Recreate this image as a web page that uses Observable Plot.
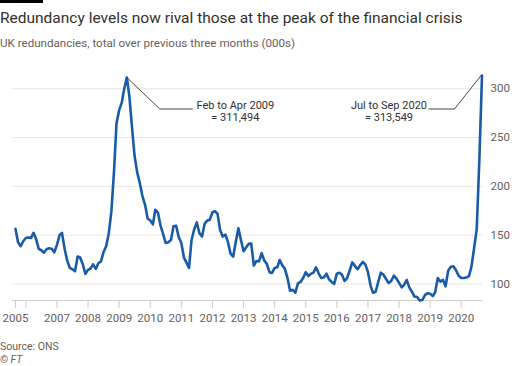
<!DOCTYPE html>
<html><head><meta charset="utf-8">
<script src="https://cdn.jsdelivr.net/npm/d3@7"></script>
<script src="https://cdn.jsdelivr.net/npm/@observablehq/plot@0.6"></script>
<style>
body{margin:0;background:#fff;font-family:Roboto,"Noto Sans",sans-serif;width:512px;height:366px;position:relative;overflow:hidden}
#bar{position:absolute;left:0;top:0;width:43px;height:3px;background:#000}
#title{position:absolute;left:0;top:8px;font-size:15.5px;line-height:20px;color:#33302e;white-space:nowrap}
#sub{position:absolute;left:0;top:35px;font-size:11.6px;line-height:16px;color:#66605c;white-space:nowrap}
#chart{position:absolute;left:0;top:58px}
#src{position:absolute;left:0;top:340px;font-size:10.5px;line-height:13px;color:#66605c}
#ft{position:absolute;left:0;top:353px;font-size:10.5px;line-height:13px;color:#66605c;font-style:italic}
</style></head>
<body>
<div id="bar"></div>
<div id="title">Redundancy levels now rival those at the peak of the financial crisis</div>
<div id="sub">UK redundancies, total over previous three months (000s)</div>
<div id="chart"></div>
<div id="src">Source: ONS</div>
<div id="ft">© FT</div>
<script>
// Monthly series, three months ending Sep 2005 ... Sep 2020 (thousands)
const firstYear = 2005, firstMonth = 8; // Sep 2005 (0-based month)
const redundancies = [
156.4,142.7,138.6,143.7,147,147.5,147,152.3,146,135.9,134.5,132,
135.5,136.5,136,132.4,140,150,152.3,136,124,116.4,115,112.9,
128,127,120,110.3,114.4,116,120,115.4,121.2,123,132.5,138.5,
152,174,215,265,278,286,300,311.494,292,260,231,214,
203,190,181,167,165,161,176,173,160,151,142,142.7,
145,159,159.5,148,142,127,122,116.4,145,156,163,152,
148.5,161.5,165,165.6,173.4,174.5,171.8,155,148.5,150.6,143,131,
128,143,157,145,133.5,137.5,141,141.3,118.8,123.5,123,131.5,
124,120.5,112,111.3,116.4,117,124.5,119,115.5,106,93,94,
91,100.6,102,106,112,108,110.3,111.5,117,110.9,106.2,106.5,
110.5,104.8,102,100,110.5,111.5,109.5,103,106,114,122,118.5,
115,119,122.5,120,112,98,91,92,102,111.5,109.5,105,
101,103,108.5,105.5,101,96.5,99,104,96.5,92,87,86.5,
83,83.5,88.5,90.5,90,87.5,91.5,106,102.4,104.1,97.5,113.5,
117.5,118,114,108.5,106,106,106.5,108,118,137,156,227,
313.549
];
const yTicks = [100, 150, 200, 250, 300];
const xTickYears = [2005,2006,2007,2008,2009,2010,2011,2012,2013,2014,2015,2016,2017,2018,2019,2020];
const xTickLabels = ["2005","","2007","2008","2009","2010","2011","2012","2013","2014","2015","2016","2017","2018","2019","2020"];
const annotationLines = [
  ["Feb to Apr 2009", "= 311,494"],
  ["Jul to Sep 2020", "= 313,549"]
];

const data = redundancies.map((v, i) => ({date: new Date(Date.UTC(firstYear, firstMonth + i, 1)), value: v}));
const startDate = data[0].date, endDate = data[data.length - 1].date;
const xDomain = [new Date(+startDate - 35 * 864e5), new Date(+endDate + 6 * 864e5)];
const xTicks = xTickYears.map((y, i) => i === 0 ? startDate : new Date(Date.UTC(y, 0, 1)));
const labelOf = new Map(xTicks.map((d, i) => [+d, xTickLabels[i]]));
const yDomain = d3.extent(redundancies);

// peaks used by the annotations
const crisisIdx = d3.maxIndex(redundancies.slice(0, 100));
const latestIdx = redundancies.length - 1;
const annots = [
  {d: data[crisisIdx], lines: annotationLines[0], tdx: 108.5, tdy: 28, cx: 33.5, cy: 32, ex: 66.5},
  {d: data[latestIdx], lines: annotationLines[1], tdx: -93, tdy: 30, cx: -27, cy: 34, ex: -53}
];

const font = 'Roboto,"Noto Sans",sans-serif';
const chart = Plot.plot({
  width: 512, height: 272,
  marginTop: 17, marginBottom: 30, marginLeft: 12, marginRight: 30,
  style: {fontFamily: font, fontSize: "11.5px", color: "#66605c", background: "transparent", overflow: "visible"},
  x: {type: "utc", domain: xDomain},
  y: {domain: yDomain},
  marks: [
    Plot.gridY(yTicks, {stroke: "#e8e6e4", strokeOpacity: 1, strokeWidth: 1}),
    Plot.ruleY([yDomain[0]], {stroke: "#cfcbc8", strokeWidth: 1}),
    Plot.axisX(xTicks, {tickFormat: d => labelOf.get(+d), tickSize: 8, tickPadding: 5, stroke: "#cfcbc8", fill: "#66605c", label: null, fontSize: 11.5}),
    Plot.axisY(yTicks, {anchor: "right", tickSize: 0, tickPadding: 8, textAnchor: "start", label: null, fill: "#66605c", fontSize: 11.5}),
    Plot.line(data, {x: "date", y: "value", stroke: "#1a5ba6", strokeWidth: 2.6, strokeLinejoin: "round", strokeLinecap: "round", curve: "linear"}),
    (index, scales) => {
      const g = d3.create("svg:g").attr("fill", "none").attr("stroke", "#33302e").attr("stroke-width", 0.9);
      for (const a of annots) {
        const px = scales.x(a.d.date), py = scales.y(a.d.value);
        g.append("path").attr("d", `M${px},${py}L${px + a.cx},${py + a.cy}L${px + a.ex},${py + a.cy}`);
      }
      return g.node();
    },
    ...annots.flatMap(a => a.lines.map((line, k) =>
      Plot.text([a.d], {x: "date", y: "value", text: () => line, dx: a.tdx, dy: a.tdy + k * 12, textAnchor: "middle", fill: "#33302e", fontSize: 11}))
    )
  ]
});
document.getElementById("chart").appendChild(chart);
</script>
</body></html>
